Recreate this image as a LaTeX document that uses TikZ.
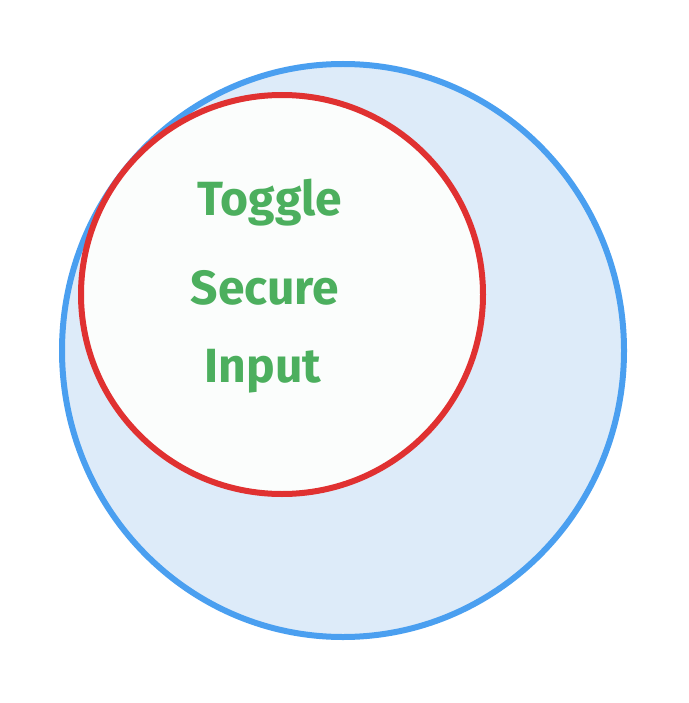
\documentclass[tikz,border=0pt]{standalone}
\usepackage{fontspec}
\setmainfont{Fira Sans}
\definecolor{bluel}{HTML}{4A9FF0}
\definecolor{bluef}{HTML}{DDEBF9}
\definecolor{redl}{HTML}{E03131}
\definecolor{redf}{HTML}{FBFDFC}
\definecolor{greent}{HTML}{4CAF5E}
\tikzset{
  ring/.style={line width=6pt},
  lbl/.style={text=greent, font=\fontsize{48}{54}\selectfont\bfseries, inner sep=0pt}
}
\begin{document}
\begin{tikzpicture}[x=1pt,y=-1pt]
\useasboundingbox (0,0) rectangle (688,703);
\draw[ring, draw=bluel, fill=bluef] (343,350.5) ellipse [x radius=281, y radius=286.5];
\draw[ring, draw=redl, fill=redf] (282,294.5) ellipse [x radius=201, y radius=199.5];
\node[lbl] (t1) at (270,203) {Toggle};
\node[lbl] (t2) at (265,288) {Secure};
\node[lbl] (t3) at (263,371) {Input};
\end{tikzpicture}
\end{document}
